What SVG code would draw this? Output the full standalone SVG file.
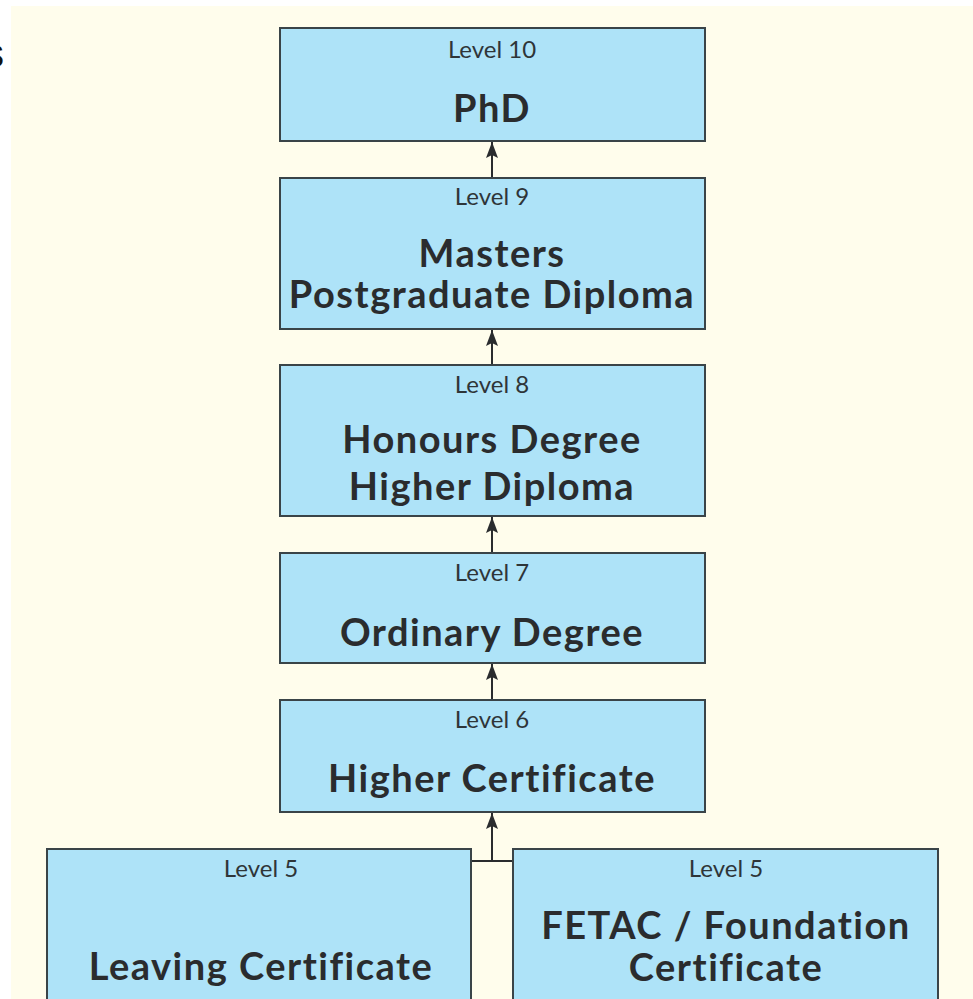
<svg xmlns="http://www.w3.org/2000/svg" width="973" height="999" viewBox="0 0 973 999">
<style>
.box{fill:#aee3f8;stroke:#3a4448;stroke-width:2}
.lv{font-family:Lato,"Liberation Sans",sans-serif;font-size:24px;fill:#2e3538;text-anchor:middle}
.tt{font-family:Lato,"Liberation Sans",sans-serif;font-size:38px;font-weight:bold;fill:#2a2c2e;text-anchor:middle;letter-spacing:1.5px}
.ln{stroke:#2a2c2e;stroke-width:2;fill:none}
</style>
<defs>
<marker id="ah" viewBox="0 0 16 12" refX="16" refY="6" markerWidth="16" markerHeight="12" markerUnits="userSpaceOnUse" orient="auto">
<path d="M0,0 L16,6 L0,12 L3,6 Z" fill="#2a2c2e"/>
</marker>
</defs>
<rect width="973" height="999" fill="#ffffff"/>
<rect x="11" y="6" width="962" height="993" fill="#fffdec"/>
<text x="-16" y="67" font-family="Liberation Sans, sans-serif" font-size="40" fill="#111">s</text>
<g id="connectors">
<line class="ln" x1="492" y1="178" x2="492" y2="142" marker-end="url(#ah)"/>
<line class="ln" x1="492" y1="365" x2="492" y2="330" marker-end="url(#ah)"/>
<line class="ln" x1="492" y1="553" x2="492" y2="517" marker-end="url(#ah)"/>
<line class="ln" x1="492" y1="700" x2="492" y2="664" marker-end="url(#ah)"/>
<line class="ln" x1="471" y1="861" x2="513" y2="861"/>
<line class="ln" x1="492" y1="861" x2="492" y2="813" marker-end="url(#ah)"/>
</g>
<g id="level10">
<rect class="box" x="280" y="28" width="425" height="113"/>
<text class="lv" x="492" y="58">Level 10</text>
<text class="tt" x="492" y="122">PhD</text>
</g>
<g id="level9">
<rect class="box" x="280" y="178" width="425" height="151"/>
<text class="lv" x="492" y="205">Level 9</text>
<text class="tt" x="492" y="267">Masters</text>
<text class="tt" x="492" y="308">Postgraduate Diploma</text>
</g>
<g id="level8">
<rect class="box" x="280" y="365" width="425" height="151"/>
<text class="lv" x="492" y="393">Level 8</text>
<text class="tt" x="492" y="453">Honours Degree</text>
<text class="tt" x="492" y="500">Higher Diploma</text>
</g>
<g id="level7">
<rect class="box" x="280" y="553" width="425" height="110"/>
<text class="lv" x="492" y="581">Level 7</text>
<text class="tt" x="492" y="646">Ordinary Degree</text>
</g>
<g id="level6">
<rect class="box" x="280" y="700" width="425" height="112"/>
<text class="lv" x="492" y="728">Level 6</text>
<text class="tt" x="492" y="792">Higher Certificate</text>
</g>
<g id="leaving">
<rect class="box" x="47" y="849" width="424" height="160"/>
<text class="lv" x="261" y="877">Level 5</text>
<text class="tt" x="261" y="980">Leaving Certificate</text>
</g>
<g id="fetac">
<rect class="box" x="513" y="849" width="425" height="160"/>
<text class="lv" x="726" y="877">Level 5</text>
<text class="tt" x="726" y="939">FETAC / Foundation</text>
<text class="tt" x="726" y="981">Certificate</text>
</g>
</svg>
